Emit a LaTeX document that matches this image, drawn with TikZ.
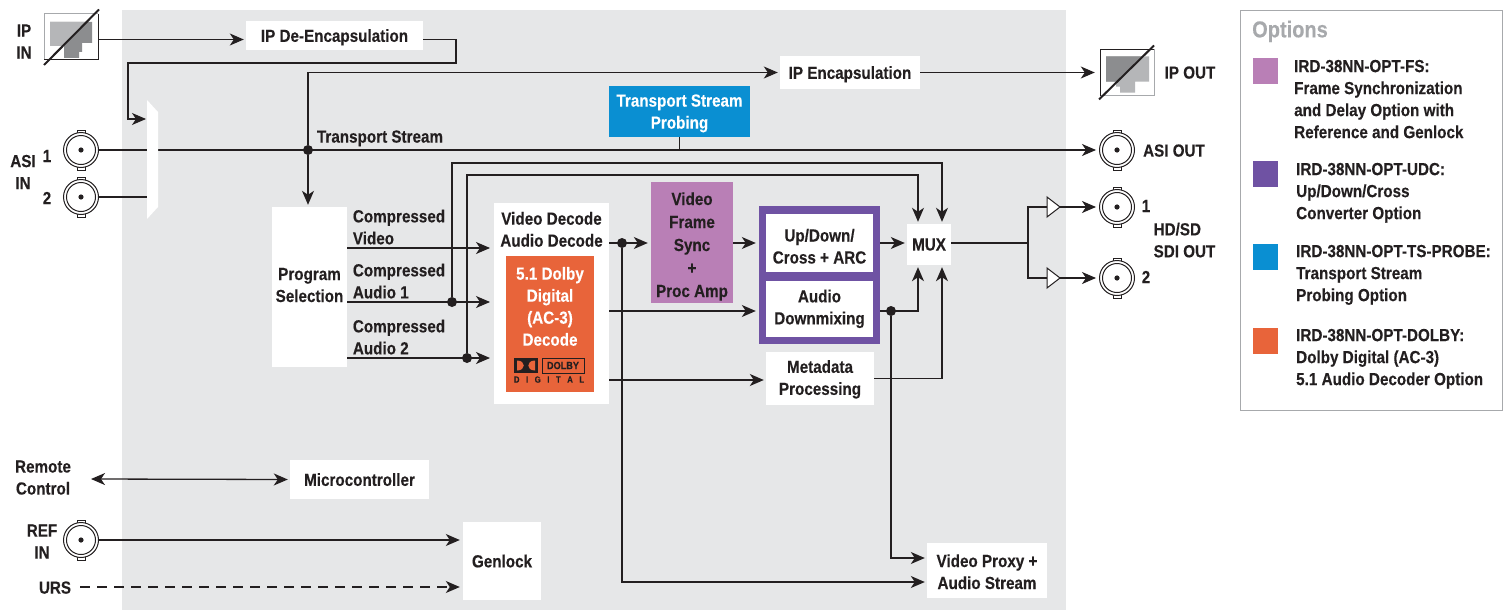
\documentclass[tikz,border=0pt]{standalone}
\usepackage{xcolor}
\usepackage{fontspec}
\setmainfont{Liberation Sans}[FakeStretch=0.87,BoldFeatures={FakeBold=0.25}]
\usetikzlibrary{arrows.meta,positioning,calc}
\definecolor{irdInk}{HTML}{231F20}
\definecolor{irdBg}{HTML}{E6E7E8}
\definecolor{irdRule}{HTML}{A7A9AC}
\definecolor{irdJackLight}{HTML}{B5B6B8}
\definecolor{irdJackDark}{HTML}{8C8D8F}
\definecolor{irdSync}{HTML}{B97FB6}
\definecolor{irdUdc}{HTML}{6F52A3}
\definecolor{irdProbe}{HTML}{0A8FD2}
\definecolor{irdDolby}{HTML}{E8643A}
\tikzset{
  % Plain white block
  wbox/.style={rectangle,fill=white,align=center,inner sep=0pt,text depth=0pt,
    font=\fontsize{17.5}{22}\selectfont\bfseries,text=irdInk},
  % Block with colour fill
  cbox/.style={wbox,fill=#1},
  % Free label
  lbl/.style={align=center,inner sep=0pt,text depth=0pt,
    font=\fontsize{17.5}{22}\selectfont\bfseries,text=irdInk},
  % Option text
  optlbl/.style={lbl,align=left,anchor=west},
  swatch/.style={rectangle,inner sep=0pt,minimum width=25pt,minimum height=26pt,fill=#1},
  junction/.style={circle,fill=irdInk,inner sep=0pt,minimum size=10pt},
  % Arrows
  arr/.style={-{Stealth[length=14pt,width=12pt,inset=4pt]},line width=1.3pt,color=irdInk},
  arrb/.style={{Stealth[length=14pt,width=12pt,inset=4pt]}-{Stealth[length=14pt,width=12pt,inset=4pt]},line width=1.3pt,color=irdInk},
  lne/.style={line width=1.3pt,color=irdInk},
  % BNC connector
  bnc/.pic={
    \fill[white,draw=irdInk,line width=1pt] (-4,-20) rectangle (4,-15);
    \fill[white,draw=irdInk,line width=1pt] (-4,15) rectangle (4,20);
    \node[circle,draw=irdInk,fill=white,line width=1pt,inner sep=0pt,minimum size=35pt] (-c) at (0,0) {};
    \draw[irdInk,line width=1pt] (0,0) circle (14.5);
    \fill[irdInk] (0,0) circle (2.6);
  },
  % Crossed-out RJ45 input
  rjin/.pic={
    \node[rectangle,inner sep=0pt,minimum width=54pt,minimum height=46pt] (-c) at (0,0) {};
    \fill[white] (-27,-23) rectangle (27,23);
    \fill[irdJackDark] (-21,-15) -- (21,-15) -- (21,6) -- (11,6) -- (11,15) -- (8,15) -- (8,21) -- (-7,21) -- (-7,9) -- (-21,9) -- cycle;
    \fill[irdJackLight] (-21,-15) -- (15,-15) -- (-9,9) -- (-21,9) -- cycle;
    \draw[irdRule,line width=1pt] (-27,23) -- (-27,-23) -- (27,-23);
    \draw[irdInk,line width=1pt] (27,-23) -- (27,23) -- (-27,23);
    \draw[irdInk,line width=2pt] (-27,28) -- (28,-27.5);
  },
  % Crossed-out RJ45 output
  rjout/.pic={
    \node[rectangle,inner sep=0pt,minimum width=54pt,minimum height=46pt] (-c) at (0,0) {};
    \fill[white] (-27,-23) rectangle (27,23);
    \fill[irdJackLight] (-21,-16) -- (22,-16) -- (22,9) -- (8,9) -- (8,20) -- (-7,20) -- (-7,14) -- (-11,14) -- (-11,9) -- (-21,9) -- cycle;
    \fill[irdJackDark] (-21,-16) -- (15.5,-16) -- (-9.5,9) -- (-21,9) -- cycle;
    \draw[irdRule,line width=1pt] (-27,23) -- (27,23) -- (27,-23);
    \draw[irdInk,line width=1pt] (27,-23) -- (-27,-23) -- (-27,23);
    \draw[irdInk,line width=2pt] (-28,27) -- (27,-27);
  },
  % Line driver
  drv/.pic={
    \draw[irdInk,fill=white,line width=1pt] (0,-10) -- (13,0) -- (0,10) -- cycle;
    \coordinate (-in) at (0,0);
    \coordinate (-out) at (13,0);
  },
}
\begin{document}
\begin{tikzpicture}[x=1pt,y=-1pt]
  \useasboundingbox (0,0) rectangle (1509,610);
  \fill[irdBg] (122,10) rectangle (1066,610);

  % Blocks
  \node[wbox,minimum width=177pt,minimum height=29pt] (deencap) at (334.5,35.5) {IP De-Encapsulation};
  \node[wbox,minimum width=140pt,minimum height=32pt] (encap) at (850,72.5) {IP Encapsulation};
  \node[cbox=irdProbe,text=white,minimum width=141pt,minimum height=51pt] (probe) at (679.5,111.5) {Transport Stream\\Probing};
  \node[wbox,text depth=4pt,minimum width=75pt,minimum height=160pt] (progsel) at (309.5,287) {Program\\Selection};
  \node[wbox,minimum width=115pt,minimum height=201pt] (decode) at (551.5,303.5) {};
  \node[lbl,below=9pt of decode.north] (decodelbl) {Video Decode\\Audio Decode};
  \node[cbox=irdDolby,text=white,minimum width=88pt,minimum height=136pt] (dolby) at (550,324) {};
  \node[lbl,text=white,below=11pt of dolby.north] (dolbylbl) {5.1 Dolby\\Digital\\(AC-3)\\Decode};
  \node[cbox=irdSync,text height=109pt,minimum width=82pt,minimum height=121pt] (sync) at (692,242.5) {Video\\[1pt]Frame\\[1pt]Sync\\[1pt]+\\[1pt]Proc Amp};
  \node[rectangle,fill=irdUdc,inner sep=0pt,minimum width=121pt,minimum height=138pt] (udc) at (819.5,275) {};
  \node[wbox,text height=41pt,minimum width=107pt,minimum height=58pt] (updown) at (819.5,243) {Up/Down/\\Cross + ARC};
  \node[wbox,text depth=4pt,minimum width=107pt,minimum height=56pt] (downmix) at (819.5,309) {Audio\\Downmixing};
  \node[wbox,minimum width=44pt,minimum height=41pt] (mux) at (929,244.5) {MUX};
  \node[wbox,text depth=2pt,minimum width=108pt,minimum height=53pt] (meta) at (820,378.5) {Metadata\\Processing};
  \node[wbox,minimum width=139pt,minimum height=39pt] (micro) at (359.5,479.5) {Microcontroller};
  \node[wbox,minimum width=78pt,minimum height=78pt] (genlock) at (502,561) {Genlock};
  \node[wbox,text height=37pt,minimum width=120pt,minimum height=55pt] (proxy) at (987,570.5) {Video Proxy +\\Audio Stream};

  % Dolby logo
  \node[rectangle,draw=irdInk,line width=1pt,inner sep=0pt,minimum width=42pt,minimum height=15pt,
    font=\fontsize{10.5}{10.5}\selectfont\bfseries,text=irdInk] (dolbybox) at (563,365.5) {DOLBY};
  \node[rectangle,fill=irdInk,inner sep=0pt,minimum width=24pt,minimum height=15pt] (dolbydd) at (526,365.5) {};
  \fill[irdDolby] (517,360.5) -- (517,370.5) .. controls (526,370.5) and (526,360.5) .. (517,360.5);
  \fill[irdDolby] (535,360.5) -- (535,370.5) .. controls (526,370.5) and (526,360.5) .. (535,360.5);
  \node[lbl,text=irdInk,font=\fontsize{9}{9}\selectfont\bfseries] (dolbydig) at (549,379.5) {D\hspace{6.5pt}I\hspace{6.5pt}G\hspace{6.5pt}I\hspace{6.5pt}T\hspace{6.5pt}A\hspace{6.5pt}L};

  % Connectors on the outside
  \pic (ipin) at (71,37) {rjin};
  \pic (ipout) at (1127,72.5) {rjout};
  \pic (asi1) at (81,150) {bnc};
  \pic (asi2) at (81,197) {bnc};
  \pic (ref) at (81,540) {bnc};
  \pic (asiout) at (1117,150) {bnc};
  \pic (sdi1) at (1117,207) {bnc};
  \pic (sdi2) at (1117,278) {bnc};
  \pic (drv1) at (1047,207) {drv};
  \pic (drv2) at (1047,278) {drv};

  % Named points
  \coordinate (muxin) at (146,119);
  \coordinate (urs) at (80,587);
  \coordinate (remote) at (91,479);
  \node[junction] (dotts) at (308,150) {};
  \node[junction] (dota1) at (452,302) {};
  \node[junction] (dota2) at (467,358) {};
  \node[junction] (dotdec) at (622,243) {};
  \node[junction] (dotmix) at (891,311) {};

  % Lines
  \draw[arr] (ipin-c.east |- deencap.west) ++(0,4) -- ($(deencap.west)+(-2,4)$);
  \draw[arr] ($(deencap.east)+(0,4)$) -| (456,63) -| (128,119) -- (muxin);
  \draw[arr,shorten >=3pt] (asi1-c.east) -- (asiout-c.west);
  \draw[lne] (asi2-c.east) -- (147,197);
  \fill[white] (147,100) -- (158,112) -- (158,207) -- (147,219) -- cycle;
  \draw[arr] (dotts) -- ($(progsel.north -| dotts)+(0,-2)$);
  \draw[arr] (dotts) |- ($(encap.west)+(-2,0)$);
  \draw[arr] ($(encap.east)$) -- ($(ipout-c.west)+(-5,0)$);
  \draw[lne] (probe.south) -- (probe.south |- asiout-c);
  \draw[arr] ($(progsel.east)+(0,-39)$) -- (490,248);
  \draw[arr] ($(progsel.east)+(0,15)$) -- (490,302);
  \draw[arr] ($(progsel.east)+(0,71)$) -- (490,358);
  \draw[arr] (dota1) |- (942,163) -- ($(mux.north -| 942,0)+(0,-2)$);
  \draw[arr] (dota2) |- (918,175) -- ($(mux.north -| 918,0)+(0,-2)$);
  \draw[arr] (decode.east |- dotdec) -- ($(sync.west |- dotdec)+(-3,0)$);
  \draw[arr] (dotdec) |- ($(proxy.west |- 0,582)+(-2,0)$);
  \draw[arr] (sync.east |- dotdec) -- ($(udc.west |- dotdec)+(-3,0)$);
  \draw[arr] (udc.east |- dotdec) -- ($(mux.west |- dotdec)+(-2,0)$);
  \draw[arr] (decode.east |- dotmix) -- ($(udc.west |- dotmix)+(-3,0)$);
  \draw[arr] (decode.east |- 0,380) -- ($(meta.west |- 0,380)+(-2,0)$);
  \draw[arr] (udc.east |- dotmix) -| ($(mux.south -| 918,0)+(0,2)$);
  \draw[arr] (dotmix) |- ($(proxy.west |- 0,558)+(-2,0)$);
  \draw[arr] (meta.east) -| ($(mux.south -| 942,0)+(0,2)$);
  \draw[lne] (mux.east |- 0,243) -- (1028,243);
  \draw[lne] (drv1-in) -| (1028,243);
  \draw[lne] (drv2-in) -| (1028,243);
  \draw[arr] (drv1-out) -- ($(sdi1-c.west)+(-3,0)$);
  \draw[arr] (drv2-out) -- ($(sdi2-c.west)+(-3,0)$);
  \draw[arrb] (remote) -- ($(micro.west)+(-2,0)$);
  \draw[arr] (ref-c.east) -- ($(genlock.west |- ref-c)+(-3,0)$);
  \draw[arr,dash pattern=on 10pt off 7pt] (urs) -- ($(genlock.west |- urs)+(-3,0)$);

  % Labels
  \node[lbl] (lipin) at (24,41.5) {IP\\IN};
  \node[lbl] (lasi) at (23,172) {ASI\\IN};
  \node[lbl] (lasi1) at (47,156) {1};
  \node[lbl] (lasi2) at (47,198) {2};
  \node[lbl] (lts) at (380,136.5) {Transport Stream};
  \node[lbl,align=left] (lvid) at (399,227) {Compressed\\Video};
  \node[lbl,align=left] (laud1) at (399,281) {Compressed\\Audio 1};
  \node[lbl,align=left] (laud2) at (399,337) {Compressed\\Audio 2};
  \node[lbl] (lipout) at (1190,72.5) {IP OUT};
  \node[lbl] (lasiout) at (1174,150.5) {ASI OUT};
  \node[lbl] (lsdi1) at (1146,206) {1};
  \node[lbl] (lsdi2) at (1146,277) {2};
  \node[lbl,align=left] (lsdi) at (1184.5,240) {HD/SD\\SDI OUT};
  \node[lbl] (lremote) at (43,477.5) {Remote\\Control};
  \node[lbl] (lref) at (42,541.5) {REF\\IN};
  \node[lbl] (lurs) at (55,587.5) {URS};

  % Options panel
  \node[rectangle,draw=irdRule,line width=1pt,inner sep=0pt,minimum width=262pt,minimum height=399pt] (panel) at (1371,210.5) {};
  \node[lbl,text=irdRule,font=\fontsize{23}{23}\selectfont\bfseries,anchor=west] (optitle) at (1252,29) {Options};
  \node[swatch=irdSync] (swfs) at (1265.5,71) {};
  \node[swatch=irdUdc] (swudc) at (1265.5,174) {};
  \node[swatch=irdProbe] (swts) at (1265.5,257) {};
  \node[swatch=irdDolby] (swdd) at (1265.5,341) {};
  \node[optlbl] (optfs) at (1294,99) {IRD-38NN-OPT-FS:\\Frame Synchronization\\and Delay Option with\\Reference and Genlock};
  \node[optlbl] (optudc) at (1296,191) {IRD-38NN-OPT-UDC:\\Up/Down/Cross\\Converter Option};
  \node[optlbl] (optts) at (1296,273) {IRD-38NN-OPT-TS-PROBE:\\Transport Stream\\Probing Option};
  \node[optlbl] (optdd) at (1296,357) {IRD-38NN-OPT-DOLBY:\\Dolby Digital (AC-3)\\5.1 Audio Decoder Option};
\end{tikzpicture}
\end{document}
